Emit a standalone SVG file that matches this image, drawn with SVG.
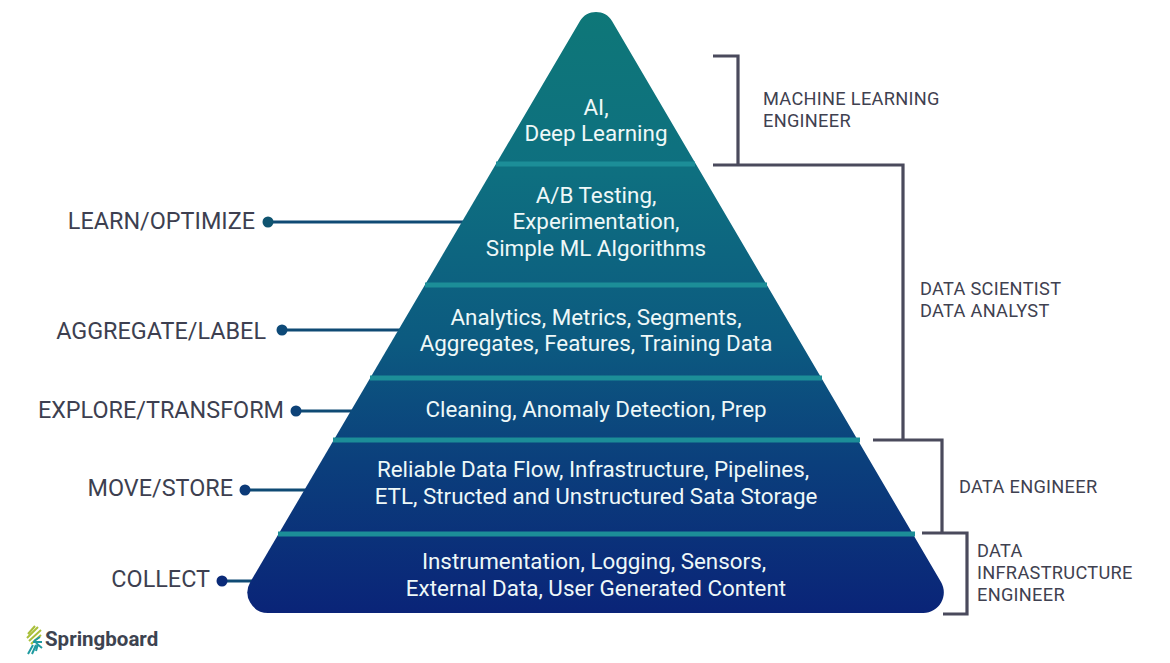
<svg xmlns="http://www.w3.org/2000/svg" width="1170" height="663" viewBox="0 0 1170 663">
<style>
text{font-family:Roboto,"Liberation Sans",sans-serif}
.w{fill:#eef8f8;font-size:22.4px;text-anchor:middle}
.l{fill:#3d3f50;font-size:23.4px;text-anchor:end}
.r{fill:#3f4150;font-size:18.2px;letter-spacing:.3px}
.sep{stroke:#1c8e98;stroke-width:5;fill:none}
.con{stroke:#0f4a74;stroke-width:3;fill:none}
.br{stroke:#4a4a5c;stroke-width:3.2;fill:none}
.lf1{stroke:#a9bf3a;stroke-width:2;fill:none}
.lf2{stroke:#1f9aa0;stroke-width:2;fill:none}
</style>
<defs>
<linearGradient id="g" gradientUnits="userSpaceOnUse" x1="0" y1="12" x2="0" y2="613">
<stop offset="0" stop-color="#0e7778"/>
<stop offset=".26" stop-color="#0e7080"/>
<stop offset=".55" stop-color="#0c5a80"/>
<stop offset=".75" stop-color="#0b3f7c"/>
<stop offset="1" stop-color="#0a2478"/>
</linearGradient>
</defs>
<rect width="1170" height="663" fill="#fff"/>
<g id="connectors">
<path class="con" d="M268 222H464"/><circle cx="268" cy="222" r="5.5" fill="#0f5470"/>
<path class="con" d="M282 330H400"/><circle cx="282" cy="330" r="5.5" fill="#0e4a78"/>
<path class="con" d="M296 411H354"/><circle cx="296" cy="411" r="5.5" fill="#0d4278"/>
<path class="con" d="M245 490H308"/><circle cx="245" cy="490" r="5.5" fill="#0c3a78"/>
<path class="con" d="M222 581H252"/><circle cx="222" cy="581" r="5.5" fill="#0a2a78"/>
<path class="br" d="M713 56H738V165"/>
<path class="br" d="M713 165H903V440"/>
<path class="br" d="M873 440H942V533"/>
<path class="br" d="M922 533H967V614H943"/>
</g>
<g id="pyramid">
<path fill="url(#g)" d="M580 21A18.6 18.6 0 0 1 612 21L941 582A20.6 20.6 0 0 1 923.500 613H268A20.600 20.600 0 0 1 250.300 582Z"/>
<path class="sep" d="M496 164H695M425 285H767M370 378H822M333 440H860M278 534H915"/>
</g>
<g id="tier-ai"><text class="w" x="596" y="115">AI,</text><text class="w" x="596" y="141">Deep Learning</text></g>
<g id="tier-learn">
<text class="w" x="596" y="203">A/B Testing,</text><text class="w" x="596" y="229">Experimentation,</text><text class="w" x="596" y="256">Simple ML Algorithms</text>
<text class="l" x="255" y="229">LEARN/OPTIMIZE</text></g>
<g id="tier-aggregate">
<text class="w" x="596" y="325">Analytics, Metrics, Segments,</text><text class="w" x="596" y="351">Aggregates, Features, Training Data</text>
<text class="l" x="266" y="339">AGGREGATE/LABEL</text></g>
<g id="tier-explore">
<text class="w" x="596" y="417">Cleaning, Anomaly Detection, Prep</text>
<text class="l" x="284" y="418">EXPLORE/TRANSFORM</text></g>
<g id="tier-move">
<text class="w" x="593" y="477">Reliable Data Flow, Infrastructure, Pipelines,</text><text class="w" x="596" y="504">ETL, Structed and Unstructured Sata Storage</text>
<text class="l" x="233" y="496">MOVE/STORE</text></g>
<g id="tier-collect">
<text class="w" x="594" y="569">Instrumentation, Logging, Sensors,</text><text class="w" x="596" y="596">External Data, User Generated Content</text>
<text class="l" x="210" y="587">COLLECT</text></g>
<g id="role-ml"><text class="r" x="763" y="105">MACHINE LEARNING</text><text class="r" x="763" y="127">ENGINEER</text></g>
<g id="role-ds"><text class="r" x="920" y="295">DATA SCIENTIST</text><text class="r" x="920" y="317">DATA ANALYST</text></g>
<g id="role-de"><text class="r" x="959" y="493">DATA ENGINEER</text></g>
<g id="role-di"><text class="r" x="977" y="557">DATA</text><text class="r" x="977" y="579">INFRASTRUCTURE</text><text class="r" x="977" y="601">ENGINEER</text></g>
<g id="logo">
<path class="lf1" d="M28 634L35 626M27 638L38 627M29 641L41 630M31 644L41 635"/>
<path class="lf2" d="M28 654L33 645M32 654L36 645M36 651L38 644M36 643L42 648M33 642L42 642M34 641L40 637"/>
<text x="45" y="646" font-size="20.5" font-weight="700" fill="#3d4350">Springboard</text>
</g>
</svg>
